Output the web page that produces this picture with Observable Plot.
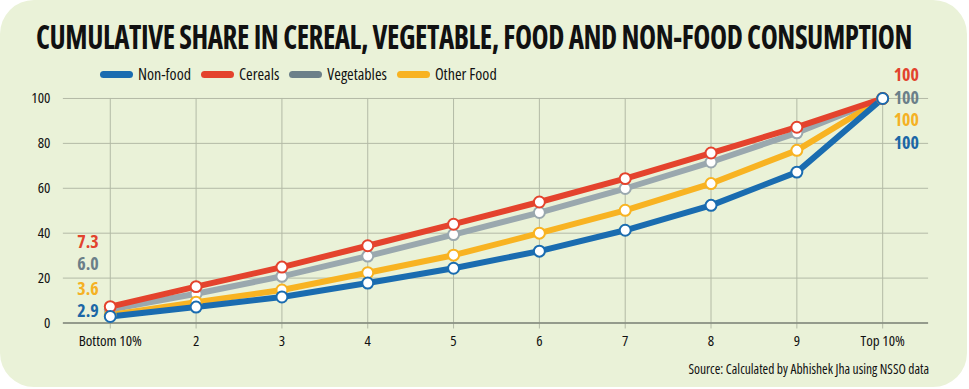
<!DOCTYPE html>
<html>
<head>
<meta charset="utf-8">
<script src="https://cdn.jsdelivr.net/npm/d3@7"></script>
<script src="https://cdn.jsdelivr.net/npm/@observablehq/plot@0.6"></script>
<style>
  html, body { margin: 0; padding: 0; background: #ffffff; }
  body { width: 969px; height: 389px; overflow: hidden; }
  #card {
    position: absolute; left: 0; top: 0; width: 967px; height: 387px;
    background: #eaf2d8; border-radius: 34px; overflow: hidden;
    font-family: "Open Sans", "Liberation Sans", sans-serif;
    font-stretch: 75%;
    color: #111;
  }
  #title {
    position: absolute; left: 36px; top: 14px; white-space: nowrap;
    font-size: 33px; font-weight: bold; transform-origin: 0 0; letter-spacing: -0.5px;
  }
  #legend { position: absolute; left: 100px; top: 63px; display: flex; align-items: center; font-size: 16px; }
  #legend .item { display: flex; align-items: center; margin-right: 10px; }
  #legend .sw { width: 33px; height: 7px; border-radius: 4px; margin-right: 5px; }
  #chart { position: absolute; left: 0; top: 85px; }
  #source { position: absolute; right: 38px; top: 360px; font-size: 13.5px; white-space: nowrap; }
  .vlabel { font-stretch: 87.5%; }
</style>
</head>
<body>
<div id="card">
  <div id="title"></div>
  <div id="legend"></div>
  <div id="chart"></div>
  <div id="source"></div>
</div>
<script>
const titleText = "CUMULATIVE SHARE IN CEREAL, VEGETABLE, FOOD AND NON-FOOD CONSUMPTION";
const sourceText = "Source: Calculated by Abhishek Jha using NSSO data";
const categories = ["Bottom 10%", "2", "3", "4", "5", "6", "7", "8", "9", "Top 10%"];
const yTicks = [0, 20, 40, 60, 80, 100];

const legendOrder = ["Non-food", "Cereals", "Vegetables", "Other Food"];
const drawOrder = ["Vegetables", "Other Food", "Cereals", "Non-food"];

const nonFood    = [2.9, 7.1, 11.6, 17.8, 24.4, 32.0, 41.3, 52.4, 67.2, 100];
const cereals    = [7.3, 16.2, 24.9, 34.4, 44.0, 53.9, 64.3, 75.7, 87.2, 100];
const vegetables = [6.0, 13.0, 20.8, 29.8, 39.4, 49.2, 59.9, 71.7, 84.7, 100];
const otherFood  = [3.6, 9.3, 14.7, 22.4, 30.2, 40.0, 50.2, 62.1, 76.9, 100];

const lineColors  = {"Non-food": "#1a6cb0", "Cereals": "#e4432d", "Vegetables": "#9aa8ae", "Other Food": "#f8b322"};
const swatchColors = {"Non-food": "#1a6cb0", "Cereals": "#e4432d", "Vegetables": "#6c8089", "Other Food": "#f8b322"};
const labelColors = {"Non-food": "#1b67a6", "Cereals": "#e2432d", "Vegetables": "#6b7f89", "Other Food": "#f5b124"};

// label layout offsets (pixels)
const leftLabelDy  = {"Cereals": -65, "Vegetables": -45, "Other Food": -26, "Non-food": -5};
const rightLabelDy = {"Cereals": -23, "Vegetables": 0, "Other Food": 22, "Non-food": 45};

const seriesValues = {"Non-food": nonFood, "Cereals": cereals, "Vegetables": vegetables, "Other Food": otherFood};

const table = [];
for (const s of drawOrder) {
  seriesValues[s].forEach((v, i) => table.push({series: s, cat: categories[i], value: v}));
}

const FONT = '"Open Sans", "Liberation Sans", sans-serif';

const titleEl = document.getElementById("title");
titleEl.textContent = titleText;
document.getElementById("source").textContent = sourceText;

const legendEl = document.getElementById("legend");
for (const s of legendOrder) {
  const item = document.createElement("div"); item.className = "item";
  const sw = document.createElement("div"); sw.className = "sw"; sw.style.background = swatchColors[s];
  const tx = document.createElement("span"); tx.textContent = s;
  item.appendChild(sw); item.appendChild(tx); legendEl.appendChild(item);
}

const marks = [
  Plot.gridY(yTicks, {stroke: "#b3baa6", strokeOpacity: 1, strokeWidth: 1}),
  Plot.gridX(categories, {stroke: "#b3baa6", strokeOpacity: 1, strokeWidth: 1}),
  Plot.axisX({tickSize: 6, tickPadding: 6, stroke: "#b3baa6", fontSize: 15, fill: "#111"}),
  Plot.axisY(yTicks, {tickSize: 0, tickPadding: 13, fontSize: 15, fill: "#111"}),
  Plot.ruleY([0], {stroke: "#80877b", strokeWidth: 1.6}),
];
for (const s of drawOrder) {
  const d = table.filter(r => r.series === s);
  marks.push(Plot.line(d, {x: "cat", y: "value", stroke: lineColors[s], strokeWidth: 6, strokeLinejoin: "round", strokeLinecap: "round"}));
}
for (const s of drawOrder) {
  const d = table.filter(r => r.series === s);
  marks.push(Plot.dot(d, {x: "cat", y: "value", r: 5.5, fill: "white", stroke: lineColors[s], strokeWidth: 2}));
}
for (const s of drawOrder) {
  const d = table.filter(r => r.series === s);
  const first = d[0], last = d[d.length - 1];
  marks.push(Plot.text([first], {x: "cat", y: "value", text: r => r.value.toFixed(1), textAnchor: "start", dx: -33, dy: leftLabelDy[s], fill: labelColors[s], fontSize: 18, fontWeight: "bold", className: "vlabel"}));
  marks.push(Plot.text([last], {x: "cat", y: "value", text: r => String(r.value), textAnchor: "start", dx: 11, dy: rightLabelDy[s], fill: labelColors[s], fontSize: 18, fontWeight: "bold", className: "vlabel"}));
}

const chart = Plot.plot({
  width: 969,
  height: 280,
  marginLeft: 63,
  marginRight: 39,
  marginTop: 13,
  marginBottom: 42,
  style: {background: "transparent", fontFamily: FONT, fontSize: "15px", color: "#111", overflow: "visible", fontStretch: "75%"},
  x: {type: "point", domain: categories, padding: 0.5, label: null},
  y: {domain: [0, 100], label: null},
  marks
});
document.getElementById("chart").appendChild(chart);

const w = titleEl.getBoundingClientRect().width;
titleEl.style.transform = `scaleX(${876 / w})`;
</script>
</body>
</html>
